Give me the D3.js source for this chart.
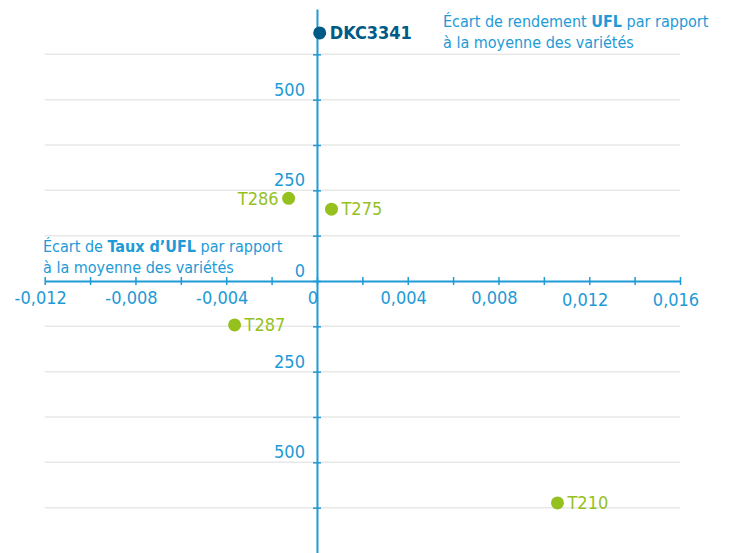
<!DOCTYPE html>
<html>
<head>
<meta charset="utf-8">
<script src="https://cdn.jsdelivr.net/npm/d3@7"></script>
<style>
  body { margin: 0; background: #fff; }
  svg text { font-family: "Liberation Sans Narrow", "DejaVu Sans Condensed", "Roboto", sans-serif; }
</style>
</head>
<body>
<svg></svg>
<script>
const width = 729, height = 553;

// varieties: x = écart de taux d'UFL, y = écart de rendement UFL
const names = ['DKC3341', 'T286', 'T275', 'T287', 'T210'];
const tauxUFL = [0.00012, -0.00125, 0.00064, -0.00363, 0.0106];
const rendementUFL = [684, 228, 198, -121, -612];
const highlight = ['DKC3341'];

const xTicks = d3.range(-0.012, 0.0161, 0.002);
const xLabelled = [-0.012, -0.008, -0.004, 0, 0.004, 0.008, 0.012, 0.016];
const yTicks = d3.range(-625, 626, 125);
const yLabelled = [-500, -250, 0, 250, 500];

const blue = '#1e9ad6', green = '#95c11f', dark = '#005a87';

const svg = d3.select('svg')
    .attr('width', width)
    .attr('height', height);

const x = d3.scaleLinear().domain([-0.012, 0.016]).range([44.7, 680]);
const y = d3.scaleLinear().domain([-750, 750]).range([553, 9]);

// gridlines
svg.append('g')
  .selectAll('line')
  .data(yTicks.filter(d => d !== 0))
  .enter().append('line')
    .attr('x1', x(-0.012))
    .attr('x2', x(0.016))
    .attr('y1', d => y(d))
    .attr('y2', d => y(d))
    .attr('stroke', '#e8e8e8')
    .attr('stroke-width', 1.5);

const near = (a, b) => Math.abs(a - b) < 1e-9;
const fmt = d => d3.format('.3f')(d).replace('.', ',').replace('−', '-');

// x axis
const xAxis = svg.append('g')
    .attr('transform', `translate(0,${y(0)})`)
    .call(d3.axisBottom(x)
      .tickValues(xTicks)
      .tickSize(4)
      .tickSizeOuter(0)
      .tickFormat(d => near(d, 0) ? '0' : (xLabelled.some(v => near(v, d)) ? fmt(d) : '')));
xAxis.select('.domain').attr('stroke', blue).attr('stroke-width', 2);
xAxis.selectAll('.tick line').attr('stroke', blue).attr('stroke-width', 1.5).attr('y1', -4);
xAxis.selectAll('.tick text')
    .attr('fill', blue)
    .attr('font-size', 18)
    .attr('x', -4.5)
    .attr('y', d => d > 0.011 ? 12 : 10);

// y axis
const yAxis = svg.append('g')
    .attr('transform', `translate(${x(0)},0)`)
    .call(d3.axisLeft(y)
      .tickValues(yTicks)
      .tickSize(4)
      .tickSizeOuter(0)
      .tickFormat(d => yLabelled.includes(d) ? String(Math.abs(d)) : ''));
yAxis.select('.domain').attr('stroke', blue).attr('stroke-width', 2);
yAxis.selectAll('.tick line').attr('stroke', blue).attr('stroke-width', 1.5).attr('x1', 4);
yAxis.selectAll('.tick text')
    .attr('fill', blue)
    .attr('font-size', 18)
    .attr('x', -12)
    .attr('dy', '-0.25em');

// points
const pts = names.map((n, i) => ({ name: n, x: tauxUFL[i], y: rendementUFL[i] }));
const g = svg.append('g');
g.selectAll('circle')
  .data(pts)
  .enter().append('circle')
    .attr('cx', d => x(d.x))
    .attr('cy', d => y(d.y))
    .attr('r', 6.5)
    .attr('fill', d => highlight.includes(d.name) ? dark : green);

g.selectAll('text')
  .data(pts)
  .enter().append('text')
    .attr('x', d => x(d.x) + (d.name === 'T286' ? -10 : 10))
    .attr('y', d => y(d.y))
    .attr('dy', '0.35em')
    .attr('text-anchor', d => d.name === 'T286' ? 'end' : 'start')
    .attr('font-size', 18)
    .attr('font-weight', d => highlight.includes(d.name) ? 'bold' : 'normal')
    .attr('fill', d => highlight.includes(d.name) ? dark : green)
    .text(d => d.name);

// axis titles
function title(px, py, bold, pre, post) {
  const t = svg.append('text').attr('x', px).attr('y', py).attr('font-size', 16).attr('fill', blue);
  t.append('tspan').text(pre);
  t.append('tspan').attr('font-weight', 'bold').text(bold);
  t.append('tspan').text(post);
  svg.append('text').attr('x', px).attr('y', py + 21).attr('font-size', 16).attr('fill', blue)
    .text('à la moyenne des variétés');
}
title(443, 27, 'UFL', 'Écart de rendement ', ' par rapport');
title(43, 252, 'Taux d’UFL', 'Écart de ', ' par rapport');
</script>
</body>
</html>
